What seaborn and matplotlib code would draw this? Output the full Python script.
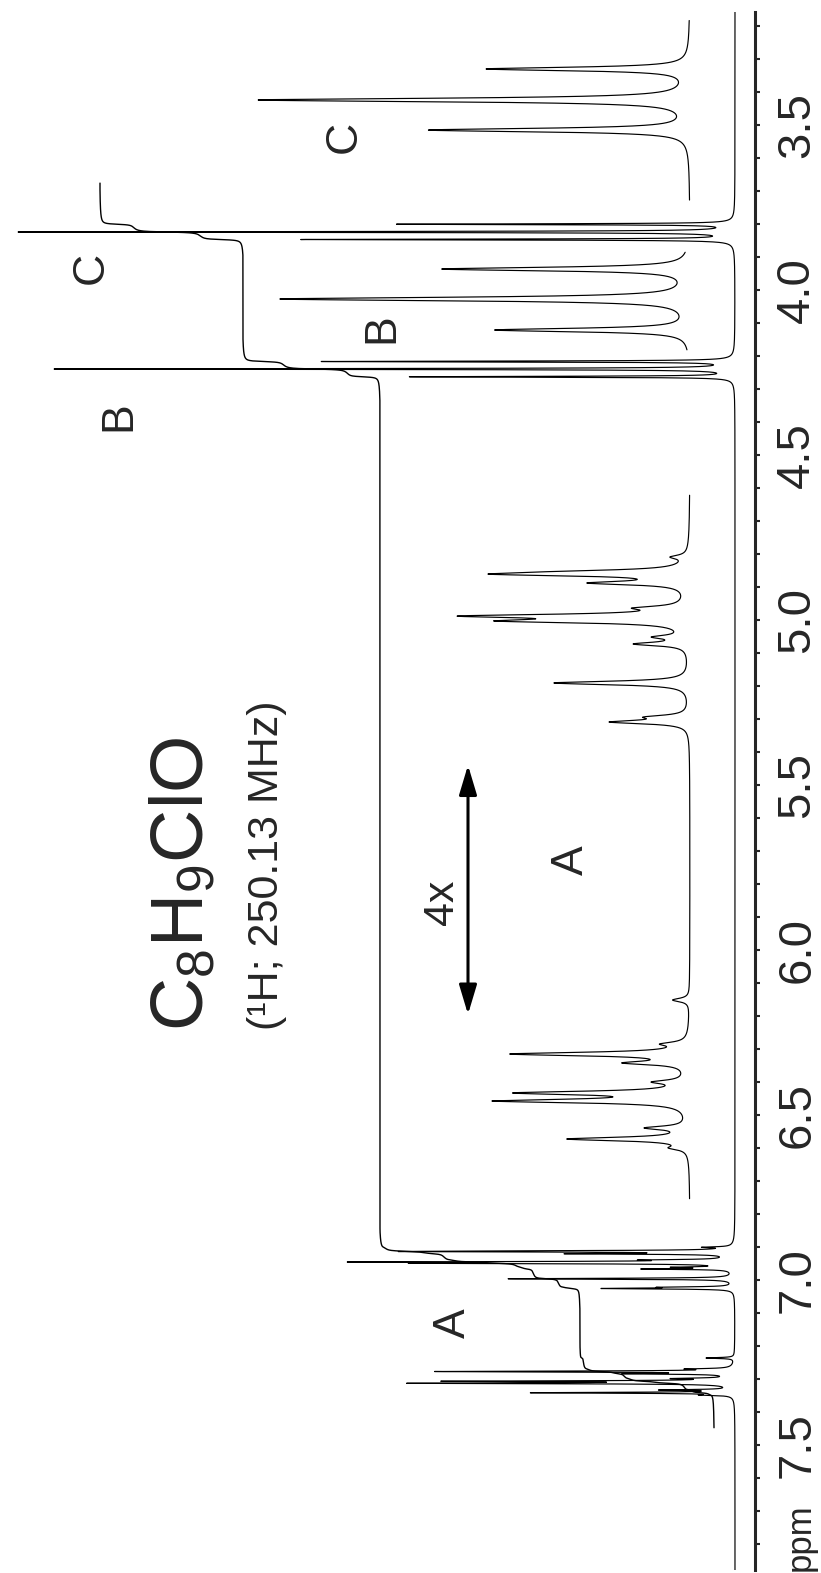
import numpy as np
import pandas as pd
import matplotlib
matplotlib.use("Agg")
import matplotlib.pyplot as plt
import matplotlib.transforms as mtransforms
from matplotlib.patches import ArrowStyle
from matplotlib.ticker import MultipleLocator
import seaborn as sns

sns.set_style("white")
plt.rcParams['font.family'] = ['Liberation Sans', 'DejaVu Sans']
plt.rcParams['mathtext.fontset'] = 'custom'
plt.rcParams['mathtext.rm'] = 'Liberation Sans'
plt.rcParams['mathtext.it'] = 'Liberation Sans:italic'

# ----------------------------
# peak lists (ppm, intensity in arb. units)
# ----------------------------
arom_ppm = [6.9008, 6.9118, 6.9138, 6.9205, 6.9394, 6.9455, 6.9493, 6.9614, 6.9667,
            6.9962, 7.0220, 7.0258,
            7.2364, 7.2697, 7.2773, 7.2841, 7.2985, 7.3068, 7.3129, 7.3333, 7.3417, 7.3485]
arom_int = [25, 115, 280, 150, 65, 340, 270, 48, 85,
            225, 58, 125,
            28, 36, 292, 95, 48, 272, 310, 66, 200, 24]
b_ppm = [4.2167, 4.2394, 4.2629]      # OCH2 triplet
b_int = [410, 680, 322]
c_ppm = [3.8007, 3.8242, 3.8470]      # CH2Cl triplet
c_int = [336, 716, 432]
half_width = 0.0016

# integrals of the multiplets (A meta, A ortho+para, B, C)
int_lo = [7.20, 6.85, 4.15, 3.70]
int_hi = [7.45, 7.10, 4.35, 3.90]
int_val = [134, 200, 137, 143]

peak_ppm = np.array(arom_ppm + b_ppm + c_ppm)
peak_int = np.array(arom_int + b_int + c_int, dtype=float)


def spectrum(p):
    p = np.asarray(p)[:, None]
    return (peak_int / (1 + ((p - peak_ppm) / half_width) ** 2)).sum(axis=1)


# ----------------------------
# main trace + integral
# ----------------------------
ppm = np.arange(3.155, 7.880, 0.0003)
inten = spectrum(ppm)

sel = (ppm >= 3.676) & (ppm <= 7.448)
p_i = ppm[sel][::-1]
s_i = inten[sel][::-1]
w = np.zeros_like(s_i)
for lo, hi, val in zip(int_lo, int_hi, int_val):
    m = (p_i >= lo) & (p_i <= hi)
    w[m] = val / s_i[m].sum()
integral = 21 + np.cumsum(s_i * w)

# expanded (4x) traces: (ppm from, ppm to, anchor ppm, drawn at)
insets = [(6.854, 7.387, 6.9485, 5.000),
          (4.204, 4.278, 4.2394, 4.0273),
          (3.764, 3.900, 3.8242, 3.4242)]

fig = plt.figure(figsize=(8.21, 15.73), dpi=100)
ax = fig.add_axes([0, 3 / 1573, 755 / 821, 1558 / 1573])

sns.lineplot(x=inten, y=ppm, sort=False, estimator=None, color='black', lw=0.85, ax=ax)
sns.lineplot(x=integral, y=p_i, sort=False, estimator=None, color='black', lw=1.0, ax=ax)

for lo, hi, anchor, drawn in insets:
    pp = np.arange(lo, hi, 0.0001)
    yy = drawn + 4 * (pp - anchor)
    sns.lineplot(x=45 + 0.6 * spectrum(pp), y=yy, sort=False, estimator=None,
                 color='black', lw=0.85, ax=ax)

ax.set_xlim(735, -20)
ax.set_ylim(7.8788, 3.1576)
ax.set_xlabel('')
ax.set_ylabel('')
ax.set_xticks([])

for s in ['top', 'left', 'bottom']:
    ax.spines[s].set_visible(False)
ax.spines['right'].set_linewidth(2.2)
ax.yaxis.tick_right()
ax.yaxis.set_major_locator(MultipleLocator(0.5))
ax.yaxis.set_minor_locator(MultipleLocator(0.1))
ax.yaxis.set_major_formatter(matplotlib.ticker.FormatStrFormatter('%.1f'))
ax.tick_params(axis='y', which='both', direction='out', length=3.5, width=1.5,
               right=True, left=False)
ax.tick_params(axis='y', which='major', labelsize=34, pad=11, labelrotation=90)
for lab in ax.get_yticklabels():
    lab.set_va('center')
ax.set_yticks([t for t in np.arange(3.5, 7.51, 0.5)])

blend = mtransforms.blended_transform_factory(ax.transAxes, ax.transData)
ax.text(1.060, 7.778, 'ppm', transform=blend, rotation=90, fontsize=25,
        ha='center', va='center')

# ----------------------------
# labels
# ----------------------------
lab_kw = dict(rotation=90, fontsize=32, ha='center', va='center')
ax.text(644, 3.933, 'C', **lab_kw)
ax.text(391, 3.536, 'C', **lab_kw)
ax.text(616, 4.382, 'B', **lab_kw)
ax.text(353, 4.115, 'B', **lab_kw)
ax.text(282, 7.130, 'A', **lab_kw)
ax.text(164, 5.727, 'A', **lab_kw)
ax.text(293, 5.855, '4x', rotation=90, fontsize=31, ha='center', va='center')

ax.annotate('', xy=(267, 5.440), xytext=(267, 6.195),
            arrowprops=dict(arrowstyle=ArrowStyle('<|-|>', head_length=1.0, head_width=0.3),
                            mutation_scale=18, lw=2.2, color='black',
                            shrinkA=0, shrinkB=0))

ax.text(552, 5.800, r'C$_8$H$_9$ClO', rotation=90, fontsize=53, ha='center', va='center')
ax.text(468, 5.742, '(\u00b9H; 250.13 MHz)', rotation=90, fontsize=31,
        ha='center', va='center')

fig.savefig('out.png', dpi=100)
